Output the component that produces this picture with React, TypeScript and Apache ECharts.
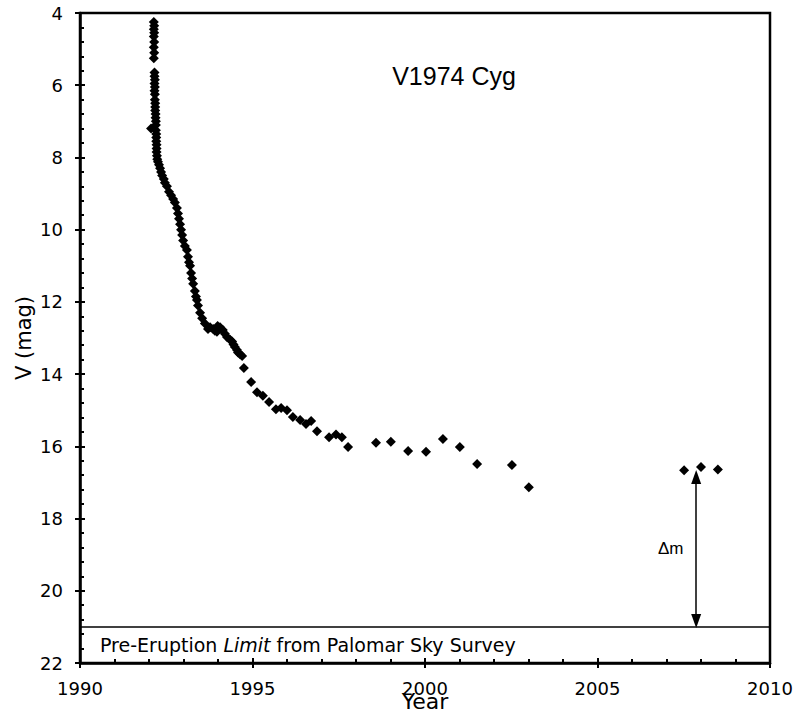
import React, { useEffect, useRef } from "react";
import * as echarts from "echarts";

const years: number[] = [
  1992.14, 1992.15, 1992.14, 1992.15, 1992.14, 1992.15, 1992.14, 1992.15, 1992.14,
  1992.16, 1992.16, 1992.17, 1992.16, 1992.17, 1992.16, 1992.17, 1992.17, 1992.18, 1992.18, 1992.18,
  1992.19, 1992.19, 1992.2, 1992.2, 1992.2, 1992.21, 1992.21, 1992.21, 1992.22, 1992.22, 1992.22, 1992.23, 1992.24,
  1992.06,
  1992.26, 1992.29, 1992.32, 1992.35, 1992.38, 1992.43, 1992.46, 1992.52, 1992.58, 1992.64, 1992.7, 1992.75,
  1992.81, 1992.84, 1992.87, 1992.9, 1992.93, 1992.96, 1992.99, 1993.04, 1993.1, 1993.13, 1993.16, 1993.19,
  1993.22, 1993.25, 1993.28, 1993.33, 1993.36, 1993.39, 1993.42, 1993.48, 1993.54, 1993.62, 1993.71, 1993.77,
  1993.86, 1993.91, 1993.97, 1993.99, 1994.06, 1994.14, 1994.2, 1994.26, 1994.35, 1994.41, 1994.45, 1994.49,
  1994.55, 1994.58, 1994.64, 1994.7, 1994.75, 1994.96, 1995.13, 1995.3, 1995.48, 1995.68, 1995.83, 1996.0,
  1996.17, 1996.38, 1996.55, 1996.7, 1996.87, 1997.22, 1997.42, 1997.59, 1997.77, 1998.58, 1999.01, 1999.51,
  2000.03, 2000.52, 2001.01, 2001.51, 2002.52, 2003.01, 2007.51, 2008.0, 2008.49,
];

const mags: number[] = [
  4.25, 4.35, 4.45, 4.55, 4.65, 4.8, 4.95, 5.1, 5.25,
  5.65, 5.75, 5.85, 5.95, 6.05, 6.15, 6.25, 6.4, 6.5, 6.6, 6.7,
  6.8, 6.9, 7.0, 7.1, 7.25, 7.35, 7.45, 7.55, 7.65, 7.75, 7.85, 7.95, 8.05,
  7.2,
  8.12, 8.2, 8.3, 8.4, 8.5, 8.6, 8.7, 8.8, 8.95, 9.05, 9.15, 9.25,
  9.4, 9.55, 9.7, 9.85, 10.0, 10.15, 10.3, 10.45, 10.56, 10.75, 10.9, 11.0,
  11.2, 11.35, 11.5, 11.7, 11.85, 11.95, 12.1, 12.3, 12.45, 12.6, 12.75, 12.7,
  12.75, 12.8, 12.83, 12.67, 12.7, 12.78, 12.88, 12.97, 13.05, 13.1, 13.18, 13.25,
  13.33, 13.4, 13.45, 13.5, 13.83, 14.22, 14.5, 14.6, 14.77, 14.97, 14.94, 15.0,
  15.19, 15.27, 15.38, 15.3, 15.58, 15.75, 15.67, 15.75, 16.02, 15.9, 15.87, 16.13,
  16.15, 15.8, 16.02, 16.49, 16.52, 17.13, 16.66, 16.57, 16.64,
];

const preEruptionLimit = 21;
// Δm arrow: x position and the centres of its two arrowheads (mag)
const arrowYear = 2007.86;
const arrowTop = 16.85;
const arrowBottom = 20.84;

const titleText = "V1974 Cyg";
const xName = "Year";
const yName = "V (mag)";

export default function App() {
  const ref = useRef<HTMLDivElement>(null);
  useEffect(() => {
    if (!ref.current) return;
    const chart = echarts.init(ref.current, undefined, { renderer: "svg" });
    const font = "DejaVu Sans";
    const commonX = { min: 1990, max: 2010, interval: 5, type: "value" as const, gridIndex: 0 };
    const commonY = { min: 4, max: 22, interval: 2, type: "value" as const, inverse: true, gridIndex: 0 };
    chart.setOption({
      animation: false,
      backgroundColor: "#ffffff",
      grid: {
        left: 80,
        right: 26,
        top: 13,
        bottom: 52,
        containLabel: false,
        outerBoundsMode: "none",
        show: true,
        borderColor: "#000",
        borderWidth: 2.5,
        backgroundColor: "transparent",
      },
      xAxis: [
        {
          ...commonX,
          position: "bottom",
          name: xName,
          nameLocation: "middle",
          nameGap: 27,
          nameMoveOverlap: false,
          nameTextStyle: { fontFamily: font, fontSize: 22, color: "#000" },
          axisLine: { show: true, lineStyle: { color: "#000", width: 2.5 } },
          axisTick: { show: true, inside: true, length: 5, lineStyle: { color: "#000", width: 2 } },
          minorTick: { show: true, splitNumber: 5, length: 4, lineStyle: { color: "#000", width: 2 } },
          axisLabel: { fontFamily: font, fontSize: 18, color: "#000", margin: 16, formatter: (v: number) => String(v) },
          splitLine: { show: false },
        },
        {
          ...commonX,
          position: "bottom",
          axisLine: { show: false },
          axisTick: { show: true, inside: false, length: 5, lineStyle: { color: "#000", width: 2 } },
          axisLabel: { show: false },
          splitLine: { show: false },
        },
      ],
      yAxis: [
        {
          ...commonY,
          position: "left",
          name: yName,
          nameLocation: "middle",
          nameGap: 46,
          nameMoveOverlap: false,
          nameTextStyle: { fontFamily: font, fontSize: 21, color: "#000" },
          axisLine: { show: true, lineStyle: { color: "#000", width: 2.5 } },
          axisTick: { show: true, inside: true, length: 5, lineStyle: { color: "#000", width: 2 } },
          minorTick: { show: true, splitNumber: 5, length: 4, lineStyle: { color: "#000", width: 2 } },
          axisLabel: { fontFamily: font, fontSize: 18, color: "#000", margin: 17, formatter: (v: number) => String(v) },
          splitLine: { show: false },
        },
        {
          ...commonY,
          position: "left",
          axisLine: { show: false },
          axisTick: { show: true, inside: false, length: 5, lineStyle: { color: "#000", width: 2 } },
          axisLabel: { show: false },
          splitLine: { show: false },
        },
      ],
      title: {
        text: titleText,
        left: 449,
        top: 58,
        textAlign: "center",
        textStyle: { fontFamily: "Liberation Sans", fontSize: 25, fontWeight: "normal", color: "#000" },
      },
      graphic: [
        {
          type: "text",
          left: 100,
          top: 635,
          style: {
            text: "Pre-Eruption {i|Limit} from Palomar Sky Survey",
            fontFamily: font,
            fontSize: 19,
            fill: "#000",
            rich: { i: { fontFamily: font, fontSize: 19, fontStyle: "italic", fill: "#000" } },
          },
        },
        {
          type: "text",
          left: 658,
          top: 540,
          style: { text: "Δm", fontFamily: "Liberation Sans", fontSize: 17, fill: "#000" },
        },
      ],
      series: [
        {
          type: "scatter",
          xAxisIndex: 0,
          yAxisIndex: 0,
          symbol: "diamond",
          symbolSize: 10,
          itemStyle: { color: "#000", opacity: 1 },
          data: years.map((y, i) => [y, mags[i]]),
          silent: true,
          markLine: {
            silent: true,
            symbol: ["triangle", "triangle"],
            symbolSize: [10, 14],
            label: { show: false },
            lineStyle: { color: "#000", width: 1.5, type: "solid", opacity: 1 },
            data: [
              [
                { coord: [arrowYear, arrowTop] },
                { coord: [arrowYear, arrowBottom] },
              ],
            ],
          },
        },
        {
          type: "scatter",
          xAxisIndex: 0,
          yAxisIndex: 0,
          data: [],
          silent: true,
          markLine: {
            silent: true,
            symbol: ["none", "none"],
            label: { show: false },
            lineStyle: { color: "#000", width: 1.5, type: "solid", opacity: 1 },
            data: [{ yAxis: preEruptionLimit }],
          },
        },
      ],
    });
    return () => chart.dispose();
  }, []);
  return <div ref={ref} style={{ position: "fixed", left: 0, top: 0, width: 796, height: 715 }} />;
}
